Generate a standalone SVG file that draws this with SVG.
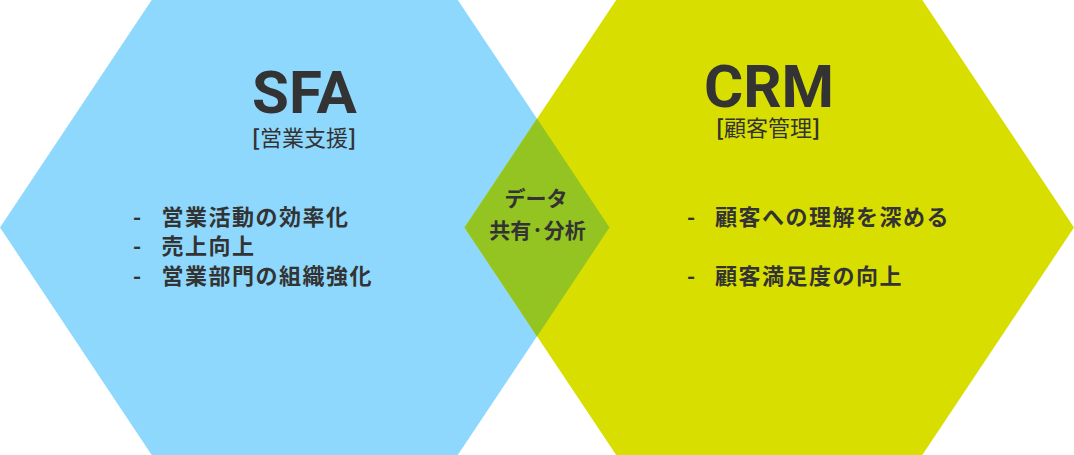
<svg xmlns="http://www.w3.org/2000/svg" width="1074" height="455" viewBox="0 0 1074 455">
<style>
.t{font-family:"Noto Sans CJK JP","Noto Sans",sans-serif;fill:#333333}
.title{font-family:Roboto,"Liberation Sans",sans-serif;font-weight:700;fill:#333333;text-anchor:middle}
.sub{font-size:22px;text-anchor:middle}
.b{font-weight:700}
.li{font-size:22px;font-weight:700;letter-spacing:1.5px}
.c{font-size:21px;font-weight:700;text-anchor:middle}
</style>
<rect width="1074" height="455" fill="#ffffff"/>
<g id="sfa">
<polygon points="0,227.5 151.7,0 457.8,0 609.5,227.5 457.8,455 151.7,455" fill="#8ED8FD"/>
</g>
<g id="crm">
<polygon points="464.5,227.5 616.2,0 922.3,0 1074,227.5 922.3,455 616.2,455" fill="#D8DF00"/>
</g>
<g id="overlap">
<polygon points="537,118.6 609.5,227.5 537,336.4 464.5,227.5" fill="#93C422"/>
</g>
<g id="sfa-text">
<text class="title" x="304.5" y="112.5" font-size="60">SFA</text>
<text class="t sub" x="304" y="146"><tspan class="b">[</tspan>営業支援<tspan class="b">]</tspan></text>
<text class="t li" x="133" y="225">-</text>
<text class="t li" x="161.5" y="225">営業活動の効率化</text>
<text class="t li" x="133" y="254">-</text>
<text class="t li" x="161.5" y="254">売上向上</text>
<text class="t li" x="133" y="284">-</text>
<text class="t li" x="161.5" y="284">営業部門の組織強化</text>
</g>
<g id="crm-text">
<text class="title" x="769" y="107" font-size="60">CRM</text>
<text class="t sub" x="768" y="136"><tspan class="b">[</tspan>顧客管理<tspan class="b">]</tspan></text>
<text class="t li" x="687" y="225">-</text>
<text class="t li" x="715" y="225">顧客への理解を深める</text>
<text class="t li" x="687" y="284">-</text>
<text class="t li" x="715" y="284">顧客満足度の向上</text>
</g>
<g id="center-text">
<text class="t c" x="536" y="206">データ</text>
<text class="t c" x="537.5" y="238">共有·分析</text>
</g>
<g id="connectors"></g>
</svg>
